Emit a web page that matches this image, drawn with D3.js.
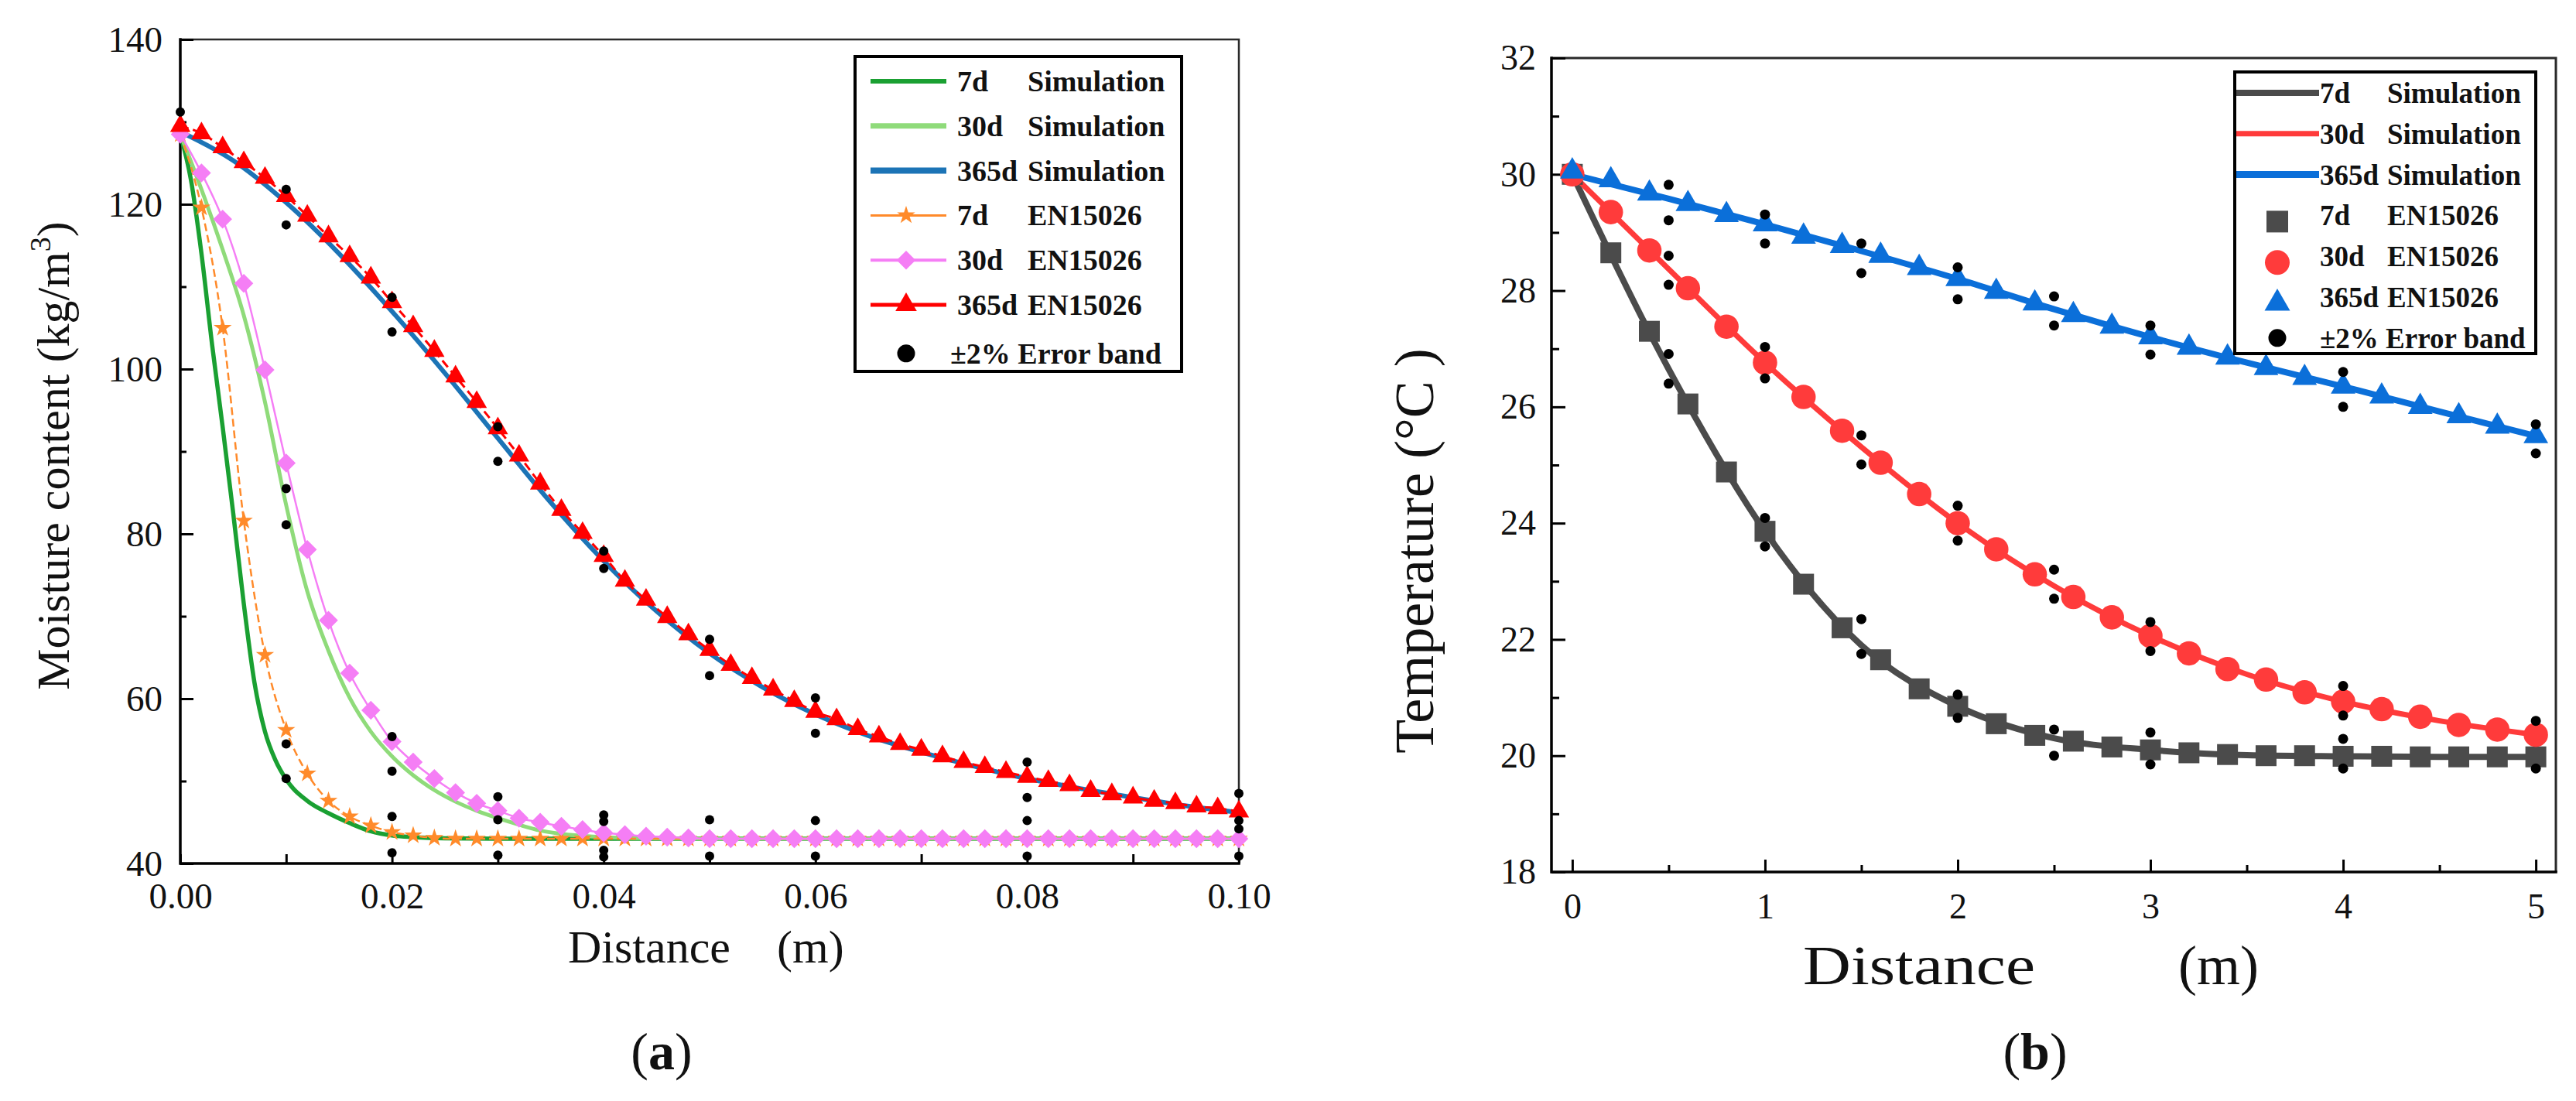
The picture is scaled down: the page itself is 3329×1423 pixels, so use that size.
<!DOCTYPE html>
<html>
<head>
<meta charset="utf-8">
<script src="https://cdn.jsdelivr.net/npm/d3@7"></script>
<style>
  body { margin: 0; background: #fff; }
  svg { display: block; }
</style>
</head>
<body>
<svg id="chart" width="3329" height="1423"></svg>
<script>
// ----------------- DATA -----------------

// panel (a): moisture content, distance in m
var sim7A = [[0,128.5],[0.001,123],[0.002,114],[0.003,103],[0.004,93],[0.005,82.5],[0.006,71.5],[0.007,62],
             [0.008,56],[0.009,52.5],[0.010,50.2],[0.012,47.6],[0.014,46.1],[0.016,44.9],[0.018,43.9],
             [0.020,43.4],[0.022,43.2],[0.025,43.05],[0.03,43],[0.1,43]];
var sim30A = [[0,128.5],[0.002,121.8],[0.004,114.5],[0.006,106.5],[0.008,96],[0.010,83.5],[0.012,73],
              [0.014,65.8],[0.016,60.1],[0.018,56],[0.020,53],[0.022,50.7],[0.024,48.9],[0.026,47.5],
              [0.028,46.4],[0.030,45.5],[0.032,44.7],[0.034,44.0],[0.036,43.6],[0.040,43.2],[0.045,43.05],
              [0.05,43],[0.1,43]];
var sim365A = [[0,128.8],[0.005,125.3],[0.01,120.2],[0.015,114],[0.02,107],[0.025,99.5],[0.03,91.6],
               [0.035,83.8],[0.04,76.7],[0.045,70.6],[0.05,65.5],[0.055,61.4],[0.06,58.1],[0.065,55.5],
               [0.07,53.5],[0.075,51.8],[0.08,50.3],[0.085,49.1],[0.09,48],[0.095,47],[0.1,46.2]];

var distA = [0,0.002,0.004,0.006,0.008,0.01,0.012,0.014,0.016,0.018,
             0.02,0.022,0.024,0.026,0.028,0.03,0.032,0.034,0.036,0.038,
             0.04,0.042,0.044,0.046,0.048,0.05,0.052,0.054,0.056,0.058,
             0.06,0.062,0.064,0.066,0.068,0.07,0.072,0.074,0.076,0.078,
             0.08,0.082,0.084,0.086,0.088,0.09,0.092,0.094,0.096,0.098,
             0.1];
var en7A = [128.5,119.6,105,81.6,65.3,56.2,50.9,47.6,45.7,44.6,
            43.8,43.4,43.1,43,43,43,43,43,43,43,
            43,43,43,43,43,43,43,43,43,43,
            43,43,43,43,43,43,43,43,43,43,
            43,43,43,43,43,43,43,43,43,43,
            43];
var en30A = [128.5,123.8,118.2,110.4,99.9,88.6,78.1,69.5,63.1,58.6,
             54.8,52.3,50.3,48.6,47.3,46.4,45.5,45.0,44.5,44.1,
             43.7,43.5,43.3,43.2,43.1,43,43,43,43,43,
             43,43,43,43,43,43,43,43,43,43,
             43,43,43,43,43,43,43,43,43,43,
             43];
var en365A = [129.5,128.6,126.9,125.1,123.2,121.0,118.6,116.1,113.7,111.1,
              108.1,105.2,102.2,99.1,96.0,92.8,89.5,86.1,82.9,80.1,
              77.3,74.3,72.0,69.9,67.8,65.9,64.1,62.5,61.1,59.7,
              58.4,57.5,56.3,55.4,54.5,53.8,53.0,52.3,51.7,51.1,
              50.5,50.0,49.5,48.8,48.4,48.0,47.6,47.3,46.9,46.7,
              46.3];
var errA = [[0,131.2],
            [0.01,121.8],[0.01,117.5],[0.01,85.5],[0.01,81.1],[0.01,54.5],[0.01,50.3],
            [0.02,108.7],[0.02,104.5],[0.02,55.4],[0.02,51.2],[0.02,45.7],[0.02,41.3],
            [0.03,93],[0.03,88.8],[0.03,48.1],[0.03,45.3],[0.03,41.0],
            [0.04,77.9],[0.04,75.8],[0.04,45.9],[0.04,45.1],[0.04,41.6],[0.04,40.8],
            [0.05,67.2],[0.05,62.8],[0.05,45.3],[0.05,40.9],
            [0.06,60.1],[0.06,55.8],[0.06,45.2],[0.06,40.9],
            [0.08,52.3],[0.08,48],[0.08,45.2],[0.08,40.9],
            [0.1,48.5],[0.1,45.2],[0.1,44.2],[0.1,40.9]];

var ticksAx = [0, 0.02, 0.04, 0.06, 0.08, 0.1];
var minorAx = [0.01, 0.03, 0.05, 0.07, 0.09];
var ticksAy = [40, 60, 80, 100, 120, 140];
var minorAy = [50, 70, 90, 110, 130];

// panel (b): temperature, distance in m
var distBsim = [0, 0.5, 1, 1.5, 2, 2.5, 3, 3.5, 4, 4.5, 5];
var sim7B = [30, 26.65, 23.86, 21.9, 20.85, 20.3, 20.1, 20.01, 19.99, 19.98, 19.98];
var sim30B = [30, 28.37, 26.76, 25.31, 24.0, 22.92, 22.06, 21.4, 20.93, 20.6, 20.36];
var sim365B = [30, 29.58, 29.14, 28.68, 28.2, 27.68, 27.2, 26.76, 26.35, 25.92, 25.5];

var distB = [0,0.2,0.4,0.6,0.8,1,1.2,1.4,1.6,1.8,2,2.2,2.4,2.6,2.8,3,3.2,3.4,3.6,3.8,4,4.2,4.4,4.6,4.8,5];
var en7B = [30.0,28.65,27.3,26.05,24.88,23.86,22.95,22.2,21.65,21.15,20.85,20.55,20.35,
            20.25,20.15,20.1,20.05,20.02,20.0,20.0,19.99,19.99,19.98,19.98,19.98,19.98];
var en30B = [30.0,29.35,28.69,28.04,27.38,26.76,26.17,25.59,25.04,24.5,24.0,23.55,23.12,
             22.73,22.38,22.06,21.76,21.49,21.31,21.09,20.93,20.8,20.67,20.53,20.45,20.36];
var en365B = [30.05,29.9,29.67,29.49,29.3,29.14,28.93,28.77,28.6,28.39,28.2,27.98,27.78,
              27.58,27.38,27.2,27.02,26.85,26.67,26.5,26.35,26.18,26.0,25.84,25.66,25.5];
var errB = [[0.5,29.82],[0.5,29.21],[0.5,28.6],[0.5,28.1],[0.5,26.91],[0.5,26.4],
            [1,29.31],[1,28.81],[1,27.03],[1,26.49],[1,24.09],[1,23.6],
            [1.5,28.81],[1.5,28.3],[1.5,25.51],[1.5,25.01],[1.5,22.35],[1.5,21.75],
            [2,28.4],[2,27.85],[2,24.3],[2,23.7],[2,21.05],[2,20.65],
            [2.5,27.9],[2.5,27.4],[2.5,23.2],[2.5,22.7],[2.5,20.45],[2.5,20.0],
            [3,27.4],[3,26.9],[3,22.3],[3,21.8],[3,20.4],[3,19.85],
            [4,26.6],[4,26.0],[4,21.2],[4,20.69],[4,20.29],[4,19.78],
            [5,25.7],[5,25.2],[5,20.6],[5,19.78]];

var ticksBx = [0, 1, 2, 3, 4, 5];
var minorBx = [0.5, 1.5, 2.5, 3.5, 4.5];
var ticksBy = [18, 20, 22, 24, 26, 28, 30, 32];
var minorBy = [19, 21, 23, 25, 27, 29, 31];

var legendDays = ['7d', '30d', '365d', '7d', '30d', '365d'];
var legendKinds = ['Simulation', 'Simulation', 'Simulation', 'EN15026', 'EN15026', 'EN15026'];
var errorLabel = '\u00B12% Error band';

// ----------------- SETUP -----------------

var FONT = '"Liberation Serif", "Times New Roman", serif';
var svg = d3.select('#chart');
svg.append('rect').attr('width', 3329).attr('height', 1423).attr('fill', '#fff');

var xA = d3.scaleLinear().domain([0, 0.1]).range([233, 1601]);
var yA = d3.scaleLinear().domain([40, 140]).range([1116, 51]);
var xB = d3.scaleLinear().domain([-0.108, 5.104]).range([2005, 3303]);
var yB = d3.scaleLinear().domain([18, 32]).range([1127, 75]);

var colA = {s7: '#1aa032', s30: '#8fdb7a', s365: '#1c74b6', e7: '#ff8a2a', e30: '#f57ef5', e365: '#ff0000'};
var colB = {d7: '#4b4b4b', d30: '#ff3b3b', d365: '#0b6fd9'};

function symbolPath(type, size) {
    var t = {star: d3.symbolStar, diamond: d3.symbolSquare, triangle: d3.symbolTriangle,
             square: d3.symbolSquare, circle: d3.symbolCircle}[type];
    return d3.symbol(t, size)();
}

function drawMarkers(x, y, xs, ys, type, size, color) {
    var rot = (type === 'diamond') ? ' rotate(45)' : '';
    svg.append('g').selectAll('path')
        .data(d3.zip(xs, ys))
        .join('path')
        .attr('transform', function(d) { return 'translate(' + x(d[0]) + ',' + y(d[1]) + ')' + rot; })
        .attr('d', symbolPath(type, size))
        .attr('fill', color);
}

function drawLine(x, y, pts, color, width, dash, curve) {
    var line = d3.line()
        .x(function(d) { return x(d[0]); })
        .y(function(d) { return y(d[1]); })
        .curve(curve || d3.curveMonotoneX);
    svg.append('path')
        .datum(pts)
        .attr('d', line)
        .attr('fill', 'none')
        .attr('stroke', color)
        .attr('stroke-width', width)
        .attr('stroke-linejoin', 'round')
        .attr('stroke-dasharray', dash || null);
}

function drawDots(x, y, pts, r) {
    svg.append('g').selectAll('circle')
        .data(pts)
        .join('circle')
        .attr('cx', function(d) { return x(d[0]); })
        .attr('cy', function(d) { return y(d[1]); })
        .attr('r', r)
        .attr('fill', '#000');
}

// ----------------- AXES -----------------

function drawAxes(x, y, o) {
    var x0 = x.range()[0], x1 = x.range()[1], yb = y.range()[0], yt = y.range()[1];
    // top / right border
    svg.append('path')
        .attr('d', 'M' + x0 + ',' + yt + 'H' + x1 + 'V' + yb)
        .attr('fill', 'none').attr('stroke', '#2a2a2a').attr('stroke-width', o.border);

    var gx = svg.append('g').attr('transform', 'translate(0,' + yb + ')');
    gx.call(d3.axisBottom(x).tickValues(o.xt).tickSize(-o.xMajor).tickSizeOuter(0)
        .tickPadding(o.xPad).tickFormat(o.xFmt));
    var gxm = svg.append('g').attr('transform', 'translate(0,' + yb + ')');
    gxm.call(d3.axisBottom(x).tickValues(o.xm).tickSize(-o.xMinor).tickSizeOuter(0).tickFormat(''));

    var gy = svg.append('g').attr('transform', 'translate(' + x0 + ',0)');
    gy.call(d3.axisLeft(y).tickValues(o.yt).tickSize(-o.yMajor).tickSizeOuter(0)
        .tickPadding(o.yPad).tickFormat(d3.format('d')));
    var gym = svg.append('g').attr('transform', 'translate(' + x0 + ',0)');
    gym.call(d3.axisLeft(y).tickValues(o.ym).tickSize(-o.yMinor).tickSizeOuter(0).tickFormat(''));

    [gx, gxm, gy, gym].forEach(function(g) {
        g.attr('font-family', FONT).attr('font-size', o.fs);
        g.select('.domain').remove();
        g.selectAll('.tick line').attr('stroke', '#000').attr('stroke-width', 3);
        g.selectAll('.tick text').attr('fill', '#111');
    });

    // left / bottom axis lines
    svg.append('path')
        .attr('d', 'M' + x0 + ',' + yt + 'V' + yb + 'H' + x1)
        .attr('fill', 'none').attr('stroke', '#000').attr('stroke-width', 3.5)
        .attr('stroke-linecap', 'square');
}

// ----------------- PANEL (a) -----------------

drawAxes(xA, yA, {xt: ticksAx, xm: minorAx, yt: ticksAy, ym: minorAy,
    xMajor: 12, xMinor: 12, yMajor: 17, yMinor: 8, xPad: 25, yPad: 23,
    xFmt: d3.format('.2f'), fs: 47, border: 2.5});

drawLine(xA, yA, sim7A, colA.s7, 5.5);
drawLine(xA, yA, sim30A, colA.s30, 5);
drawLine(xA, yA, sim365A, colA.s365, 6);

drawLine(xA, yA, d3.zip(distA, en7A), colA.e7, 2.5, '10,5');
drawMarkers(xA, yA, distA, en7A, 'star', 170, colA.e7);
drawLine(xA, yA, d3.zip(distA, en30A), colA.e30, 2.5);
drawMarkers(xA, yA, distA, en30A, 'diamond', 300, colA.e30);
drawLine(xA, yA, d3.zip(distA, en365A), colA.e365, 3, '11,6');
drawMarkers(xA, yA, distA, en365A, 'triangle', 300, colA.e365);

drawDots(xA, yA, errA, 6);

// axis titles (a)
var tA = svg.append('text').attr('font-family', FONT).attr('font-size', 60).attr('fill', '#111')
    .attr('y', 1244);
tA.append('tspan').attr('x', 734).text('Distance');
tA.append('tspan').attr('x', 1004).text('(m)');

var yTitleA = svg.append('text').attr('font-family', FONT).attr('font-size', 60).attr('fill', '#111')
    .attr('text-anchor', 'middle')
    .attr('transform', 'translate(89,589) rotate(-90)');
yTitleA.append('tspan').text('Moisture content (kg/m');
yTitleA.append('tspan').attr('font-size', 38).attr('dy', -24).text('3');
yTitleA.append('tspan').attr('dy', 24).text(')');

var capA = svg.append('text').attr('font-family', FONT).attr('font-size', 68).attr('fill', '#111')
    .attr('text-anchor', 'middle').attr('x', 855).attr('y', 1382);
capA.append('tspan').text('(');
capA.append('tspan').attr('font-weight', 'bold').text('a');
capA.append('tspan').text(')');

// legend (a)
var legA = {x: 1105, y: 73, w: 422, h: 407, row0: 105, dy: 57.8, lx0: 1125, lx1: 1223, mx: 1171, c1: 1237, c2: 1328};
var styleA = [
    {color: colA.s7, width: 6}, {color: colA.s30, width: 7}, {color: colA.s365, width: 8},
    {color: colA.e7, width: 3, sym: 'star', size: 170},
    {color: colA.e30, width: 4, sym: 'diamond', size: 300},
    {color: colA.e365, width: 5, sym: 'triangle', size: 330}
];
svg.append('rect').attr('x', legA.x).attr('y', legA.y).attr('width', legA.w).attr('height', legA.h)
    .attr('fill', '#fff').attr('stroke', '#000').attr('stroke-width', 4);
legendDays.forEach(function(day, i) {
    var cy = legA.row0 + i * legA.dy, s = styleA[i];
    svg.append('line').attr('x1', legA.lx0).attr('x2', legA.lx1).attr('y1', cy).attr('y2', cy)
        .attr('stroke', s.color).attr('stroke-width', s.width);
    if (s.sym) {
        svg.append('path').attr('d', symbolPath(s.sym, s.size)).attr('fill', s.color)
            .attr('transform', 'translate(' + legA.mx + ',' + cy + ')' + (s.sym === 'diamond' ? ' rotate(45)' : ''));
    }
    var t = svg.append('text').attr('font-family', FONT).attr('font-size', 38).attr('font-weight', 'bold')
        .attr('fill', '#111').attr('y', cy + 13);
    t.append('tspan').attr('x', legA.c1).text(day);
    t.append('tspan').attr('x', legA.c2).text(legendKinds[i]);
});
(function() {
    var cy = legA.row0 + 6 * legA.dy + 5;
    svg.append('circle').attr('cx', legA.mx).attr('cy', cy).attr('r', 11.5).attr('fill', '#000');
    svg.append('text').attr('font-family', FONT).attr('font-size', 38).attr('font-weight', 'bold')
        .attr('fill', '#111').attr('x', 1228).attr('y', cy + 13).text(errorLabel);
})();

// ----------------- PANEL (b) -----------------

drawAxes(xB, yB, {xt: ticksBx, xm: minorBx, yt: ticksBy, ym: minorBy,
    xMajor: 16, xMinor: 9, yMajor: 18, yMinor: 10, xPad: 27, yPad: 20,
    xFmt: d3.format('d'), fs: 46, border: 3});

drawLine(xB, yB, d3.zip(distBsim, sim7B), colB.d7, 8);
drawLine(xB, yB, d3.zip(distBsim, sim30B), colB.d30, 7);
drawLine(xB, yB, d3.zip(distBsim, sim365B), colB.d365, 8);

drawMarkers(xB, yB, distB, en7B, 'square', 729, colB.d7);
drawMarkers(xB, yB, distB, en30B, 'circle', 780, colB.d30);
drawMarkers(xB, yB, distB, en365B, 'triangle', 440, colB.d365);

drawDots(xB, yB, errB, 6.5);

// axis titles (b)
svg.append('text').attr('font-family', FONT).attr('font-size', 72).attr('fill', '#111')
    .attr('x', 2330).attr('y', 1272)
    .attr('textLength', 300).attr('lengthAdjust', 'spacingAndGlyphs')
    .text('Distance');
svg.append('text').attr('font-family', FONT).attr('font-size', 72).attr('fill', '#111')
    .attr('x', 2815).attr('y', 1272)
    .text('(m)');

svg.append('text').attr('font-family', FONT).attr('font-size', 72).attr('fill', '#111')
    .attr('text-anchor', 'middle')
    .attr('transform', 'translate(1852,712) rotate(-90)')
    .text('Temperature (\u00B0C )');

var capB = svg.append('text').attr('font-family', FONT).attr('font-size', 68).attr('fill', '#111')
    .attr('text-anchor', 'middle').attr('x', 2630).attr('y', 1382);
capB.append('tspan').text('(');
capB.append('tspan').attr('font-weight', 'bold').text('b');
capB.append('tspan').text(')');

// legend (b)
var legB = {x: 2888, y: 93, w: 389, h: 364, row0: 120, dy: 52.8, lx0: 2890, lx1: 2997, mx: 2943, c1: 2998, c2: 3085};
var styleB = [
    {color: colB.d7, width: 8, line: true}, {color: colB.d30, width: 7, line: true},
    {color: colB.d365, width: 9, line: true},
    {color: colB.d7, sym: 'square', size: 784},
    {color: colB.d30, sym: 'circle', size: 804},
    {color: colB.d365, sym: 'triangle', size: 470}
];
svg.append('rect').attr('x', legB.x).attr('y', legB.y).attr('width', legB.w).attr('height', legB.h)
    .attr('fill', '#fff').attr('stroke', '#000').attr('stroke-width', 4);
legendDays.forEach(function(day, i) {
    var cy = legB.row0 + i * legB.dy, s = styleB[i];
    if (s.line) {
        svg.append('line').attr('x1', legB.lx0).attr('x2', legB.lx1).attr('y1', cy).attr('y2', cy)
            .attr('stroke', s.color).attr('stroke-width', s.width);
    } else {
        svg.append('path').attr('d', symbolPath(s.sym, s.size)).attr('fill', s.color)
            .attr('transform', 'translate(' + legB.mx + ',' + (cy + 8) + ')');
    }
    var t = svg.append('text').attr('font-family', FONT).attr('font-size', 37).attr('font-weight', 'bold')
        .attr('fill', '#111').attr('y', cy + 13);
    t.append('tspan').attr('x', legB.c1).text(day);
    t.append('tspan').attr('x', legB.c2).text(legendKinds[i]);
});
(function() {
    var cy = legB.row0 + 6 * legB.dy;
    svg.append('circle').attr('cx', legB.mx).attr('cy', cy).attr('r', 11.5).attr('fill', '#000');
    svg.append('text').attr('font-family', FONT).attr('font-size', 37).attr('font-weight', 'bold')
        .attr('fill', '#111').attr('x', legB.c1).attr('y', cy + 13).text(errorLabel);
})();
</script>
</body>
</html>
